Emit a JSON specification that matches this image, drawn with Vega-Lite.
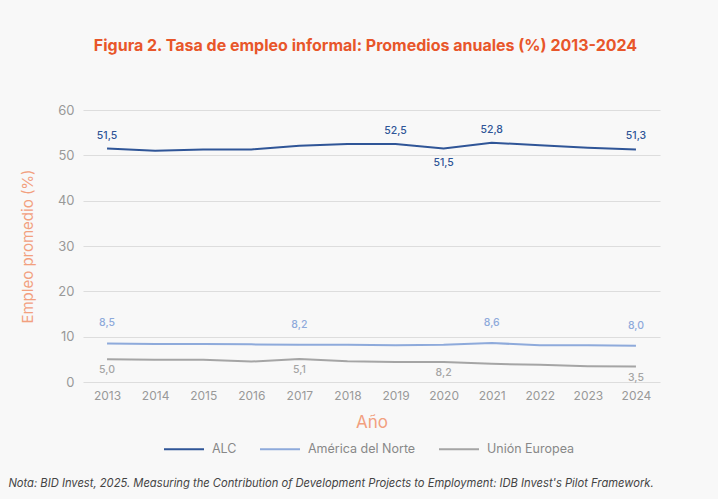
{
  "$schema": "https://vega.github.io/schema/vega-lite/v6.json",
  "background": "#f8f8f8",
  "padding": {"left": 8, "top": 38, "right": 58, "bottom": 12},
  "title": {
    "text": "Nota: BID Invest, 2025. Measuring the Contribution of Development Projects to Employment: IDB Invest's Pilot Framework.",
    "orient": "bottom",
    "anchor": "start",
    "frame": "bounds",
    "font": "Inter",
    "fontSize": 11.2,
    "fontStyle": "italic",
    "fontWeight": "normal",
    "color": "#444444",
    "dx": -12,
    "offset": 22
  },
  "resolve": {"legend": {"color": "independent"}},
  "datasets": {
    "rows": [
      {"year": 2013, "series": "ALC", "value": 51.5, "label": "51,5"},
      {"year": 2014, "series": "ALC", "value": 51.0, "label": null},
      {"year": 2015, "series": "ALC", "value": 51.3, "label": null},
      {"year": 2016, "series": "ALC", "value": 51.3, "label": null},
      {"year": 2017, "series": "ALC", "value": 52.1, "label": null},
      {"year": 2018, "series": "ALC", "value": 52.5, "label": null},
      {"year": 2019, "series": "ALC", "value": 52.5, "label": "52,5"},
      {"year": 2020, "series": "ALC", "value": 51.5, "label": "51,5"},
      {"year": 2021, "series": "ALC", "value": 52.8, "label": "52,8"},
      {"year": 2022, "series": "ALC", "value": 52.2, "label": null},
      {"year": 2023, "series": "ALC", "value": 51.7, "label": null},
      {"year": 2024, "series": "ALC", "value": 51.3, "label": "51,3"},
      {"year": 2013, "series": "América del Norte", "value": 8.5, "label": "8,5"},
      {"year": 2014, "series": "América del Norte", "value": 8.4, "label": null},
      {"year": 2015, "series": "América del Norte", "value": 8.4, "label": null},
      {"year": 2016, "series": "América del Norte", "value": 8.3, "label": null},
      {"year": 2017, "series": "América del Norte", "value": 8.2, "label": "8,2"},
      {"year": 2018, "series": "América del Norte", "value": 8.2, "label": null},
      {"year": 2019, "series": "América del Norte", "value": 8.1, "label": null},
      {"year": 2020, "series": "América del Norte", "value": 8.2, "label": null},
      {"year": 2021, "series": "América del Norte", "value": 8.6, "label": "8,6"},
      {"year": 2022, "series": "América del Norte", "value": 8.1, "label": null},
      {"year": 2023, "series": "América del Norte", "value": 8.1, "label": null},
      {"year": 2024, "series": "América del Norte", "value": 8.0, "label": "8,0"},
      {"year": 2013, "series": "Unión Europea", "value": 5.0, "label": "5,0"},
      {"year": 2014, "series": "Unión Europea", "value": 4.9, "label": null},
      {"year": 2015, "series": "Unión Europea", "value": 4.9, "label": null},
      {"year": 2016, "series": "Unión Europea", "value": 4.5, "label": null},
      {"year": 2017, "series": "Unión Europea", "value": 5.1, "label": "5,1"},
      {"year": 2018, "series": "Unión Europea", "value": 4.6, "label": null},
      {"year": 2019, "series": "Unión Europea", "value": 4.4, "label": null},
      {"year": 2020, "series": "Unión Europea", "value": 4.4, "label": "8,2"},
      {"year": 2021, "series": "Unión Europea", "value": 4.0, "label": null},
      {"year": 2022, "series": "Unión Europea", "value": 3.8, "label": null},
      {"year": 2023, "series": "Unión Europea", "value": 3.5, "label": null},
      {"year": 2024, "series": "Unión Europea", "value": 3.4, "label": "3,5"}
    ]
  },
  "vconcat": [
    {
      "width": 577,
      "height": 272,
      "title": {
        "text": "Figura 2. Tasa de empleo informal: Promedios anuales (%) 2013-2024",
        "anchor": "middle",
        "frame": "group",
        "font": "Inter",
        "fontSize": 16,
        "fontWeight": "bold",
        "color": "#e8562a",
        "dx": -6,
        "offset": 50
      },
      "data": {"name": "rows"},
      "encoding": {
        "x": {
          "field": "year",
          "type": "ordinal",
          "scale": {"type": "point", "padding": 0.5},
          "axis": {
            "title": "Año",
            "labelAngle": 0,
            "labelFontSize": 12,
            "labelPadding": 8,
            "titleFontSize": 17,
            "titleFontWeight": "normal",
            "titleColor": "#f2a07f",
            "titlePadding": 13,
            "grid": false
          }
        },
        "y": {
          "field": "value",
          "type": "quantitative",
          "scale": {"domain": [0, 60]},
          "axis": {
            "title": "Empleo promedio (%)",
            "values": [0, 10, 20, 30, 40, 50, 60],
            "labelFontSize": 13,
            "labelPadding": 9,
            "titleFontSize": 15,
            "titleFontWeight": "normal",
            "titleColor": "#f2a07f",
            "titlePadding": 22,
            "grid": true
          }
        },
        "color": {
          "field": "series",
          "type": "nominal",
          "scale": {
            "domain": ["ALC", "América del Norte", "Unión Europea"],
            "range": ["#2f5597", "#8eaadb", "#a5a5a5"]
          },
          "legend": {
            "title": null,
            "orient": "none",
            "legendX": 80,
            "legendY": 318,
            "direction": "horizontal",
            "symbolType": "stroke",
            "symbolSize": 1600,
            "symbolStrokeWidth": 2,
            "labelFont": "Inter",
            "labelFontSize": 12.5,
            "labelColor": "#888888",
            "labelOffset": 7,
            "columnPadding": 19
          }
        }
      },
      "layer": [
        {
          "mark": {"type": "line", "strokeWidth": 2}
        },
        {
          "transform": [{"filter": "datum.series === 'ALC' && datum.label != null && datum.year != 2020"}],
          "mark": {"type": "text", "dy": -13, "font": "Inter", "fontSize": 10.5, "fontWeight": 500},
          "encoding": {"text": {"field": "label"}}
        },
        {
          "transform": [{"filter": "datum.series === 'ALC' && datum.year == 2020"}],
          "mark": {"type": "text", "dy": 14, "font": "Inter", "fontSize": 10.5, "fontWeight": 500},
          "encoding": {"text": {"field": "label"}}
        },
        {
          "transform": [{"filter": "datum.series === 'América del Norte' && datum.label != null"}],
          "mark": {"type": "text", "dy": -20, "font": "Inter", "fontSize": 10.5, "fontWeight": 500},
          "encoding": {"text": {"field": "label"}}
        },
        {
          "transform": [{"filter": "datum.series === 'Unión Europea' && datum.label != null"}],
          "mark": {"type": "text", "dy": 11, "font": "Inter", "fontSize": 10.5, "fontWeight": 500},
          "encoding": {"text": {"field": "label"}}
        }
      ]
    }
  ],
  "config": {
    "view": {"stroke": null},
    "axis": {
      "labelFont": "Inter",
      "titleFont": "Inter",
      "labelColor": "#999999",
      "gridColor": "#dddddd",
      "gridWidth": 1,
      "domain": false,
      "ticks": false
    }
  }
}
